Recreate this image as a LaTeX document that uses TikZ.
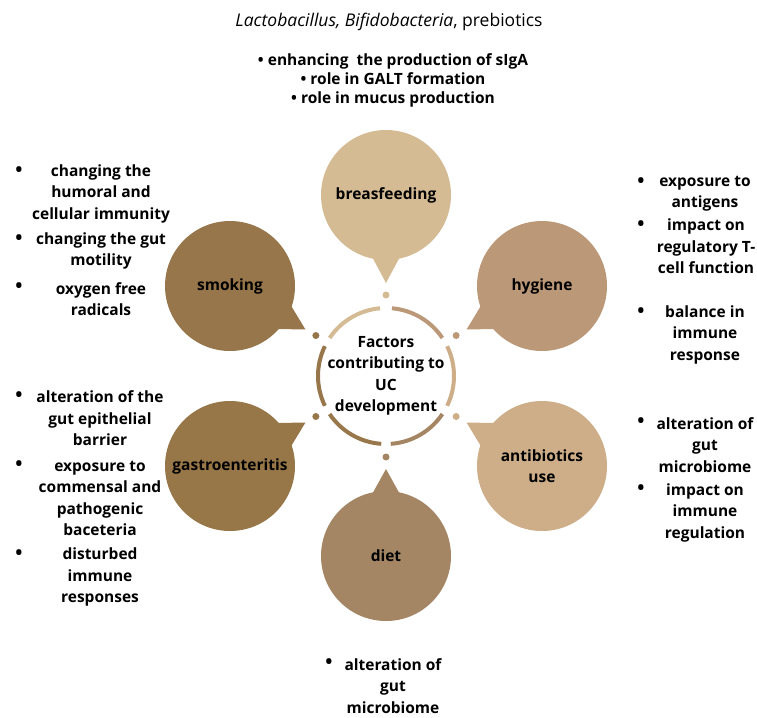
\documentclass[tikz,border=0pt]{standalone}
\usepackage{fontspec}
\setmainfont{Open Sans}
\usepackage{xcolor}
\usetikzlibrary{positioning, calc}

\definecolor{bfcol}{RGB}{212,187,148}
\definecolor{hycol}{RGB}{187,152,120}
\definecolor{abcol}{RGB}{205,174,136}
\definecolor{dicol}{RGB}{164,134,100}
\definecolor{gacol}{RGB}{151,118,72}
\definecolor{smcol}{RGB}{150,118,74}

\begin{document}
\begin{tikzpicture}[
    x=1pt, y=1pt,
    bubble/.style={circle, minimum size=130pt, inner sep=0pt, align=center, font=\fontsize{15.5}{21.5}\selectfont\bfseries},
    dot/.style={circle, inner sep=0pt, minimum size=7pt},
    arcline/.style={line width=4pt},
    list/.style={align=center, inner sep=0pt, font=\fontsize{15.5}{21.5}\selectfont\bfseries},
    bul/.style={inner sep=0pt, font=\fontsize{19}{20}\selectfont\bfseries}
]
\useasboundingbox (0,0) rectangle (757,-717);

% centre ring
\node[list, circle, minimum size=136pt] (ring) at (386,-376) {Factors\\contributing to\\UC\\development};
\draw[arcline, bfcol] ([shift={(95:68)}]ring.center) arc[start angle=95, end angle=146, radius=68];
\draw[arcline, hycol] ([shift={(34:68)}]ring.center) arc[start angle=34, end angle=85, radius=68];
\draw[arcline, abcol] ([shift={(-26:68)}]ring.center) arc[start angle=-26, end angle=26, radius=68];
\draw[arcline, dicol] ([shift={(-86:68)}]ring.center) arc[start angle=-86, end angle=-34, radius=68];
\draw[arcline, gacol!90!dicol] ([shift={(-146:68)}]ring.center) arc[start angle=-146, end angle=-94, radius=68];
\draw[arcline, smcol] ([shift={(154:68)}]ring.center) arc[start angle=154, end angle=206, radius=68];

\node[dot, fill=bfcol] (d1) at ([shift={(90:81)}]ring.center) {};
\node[dot, fill=hycol] (d2) at ([shift={(30:81)}]ring.center) {};
\node[dot, fill=abcol] (d3) at ([shift={(-30:81)}]ring.center) {};
\node[dot, fill=dicol] (d4) at ([shift={(-90:81)}]ring.center) {};
\node[dot, fill=gacol] (d5) at ([shift={(-150:81)}]ring.center) {};
\node[dot, fill=smcol] (d6) at ([shift={(150:81)}]ring.center) {};

% bubbles with tails
\fill[bfcol] ([shift={(257:63)}]386,-195) -- ([shift={(90:93)}]ring.center) -- ([shift={(283:63)}]386,-195) -- cycle;
\node[bubble, fill=bfcol] (bf) at (386,-195) {breasfeeding};
\fill[hycol] ([shift={(197:63)}]542,-286) -- ([shift={(30:93)}]ring.center) -- ([shift={(223:63)}]542,-286) -- cycle;
\node[bubble, fill=hycol] (hy) at (542,-286) {hygiene};
\fill[abcol] ([shift={(137:63)}]542,-466) -- ([shift={(-30:93)}]ring.center) -- ([shift={(163:63)}]542,-466) -- cycle;
\node[bubble, fill=abcol] (ab) at (542,-466) {antibiotics\\use};
\fill[dicol] ([shift={(77:63)}]386,-556) -- ([shift={(-90:93)}]ring.center) -- ([shift={(103:63)}]386,-556) -- cycle;
\node[bubble, fill=dicol] (di) at (386,-556) {diet};
\fill[gacol] ([shift={(17:63)}]230,-466) -- ([shift={(-150:93)}]ring.center) -- ([shift={(43:63)}]230,-466) -- cycle;
\node[bubble, fill=gacol] (ga) at (230,-466) {gastroenteritis};
\fill[smcol] ([shift={(-43:63)}]230,-286) -- ([shift={(150:93)}]ring.center) -- ([shift={(-17:63)}]230,-286) -- cycle;
\node[bubble, fill=smcol] (sm) at (230,-286) {smoking};

% top
\node[inner sep=0pt, font=\fontsize{17.5}{19}\selectfont] (title) at (389,-22) {\textit{Lactobacillus, Bifidobacteria}, prebiotics};
\node[list, font=\fontsize{15.5}{19}\selectfont\bfseries] (bfl) at (393,-80) {• enhancing\ \ the production of sIgA\\• role in GALT formation\\• role in mucus production};

% smoking
\node[list] (sm1) at (101,-193.5) {changing the\\humoral and\\cellular immunity};
\node[list] (sm2) at (101,-251) {changing the gut\\motility};
\node[list] (sm3) at (101,-299) {oxygen free\\radicals};
\node[bul] (b1) at (19,-172) {•};
\node[bul] (b2) at (19,-240) {•};
\node[bul] (b3) at (19,-288) {•};

% gastroenteritis
\node[list] (ga1) at (100,-418.5) {alteration of the\\gut epithelial\\barrier};
\node[list] (ga2) at (100,-498.5) {exposure to\\commensal and\\pathogenic\\baceteria};
\node[list] (ga3) at (100,-577) {disturbed\\immune\\responses};
\node[bul] (b4) at (19,-397) {•};
\node[bul] (b5) at (19,-466) {•};
\node[bul] (b6) at (19,-555) {•};

% hygiene
\node[list] (hy1) at (705,-193.5) {exposure to\\antigens};
\node[list] (hy2) at (706,-246.5) {impact on\\regulatory T-\\cell function};
\node[list] (hy3) at (705,-334.5) {balance in\\immune\\response};
\node[bul] (b7) at (641,-183) {•};
\node[bul] (b8) at (641,-226) {•};
\node[bul] (b9) at (641,-313) {•};

% antibiotics use
\node[list] (ab1) at (705,-445) {alteration of\\gut\\microbiome};
\node[list] (ab2) at (705,-512.5) {impact on\\immune\\regulation};
\node[bul] (b10) at (641,-423) {•};
\node[bul] (b11) at (641,-490) {•};

% diet
\node[list] (di1) at (393,-686) {alteration of\\gut\\microbiome};
\node[bul] (b12) at (329,-664) {•};

\end{tikzpicture}
\end{document}
